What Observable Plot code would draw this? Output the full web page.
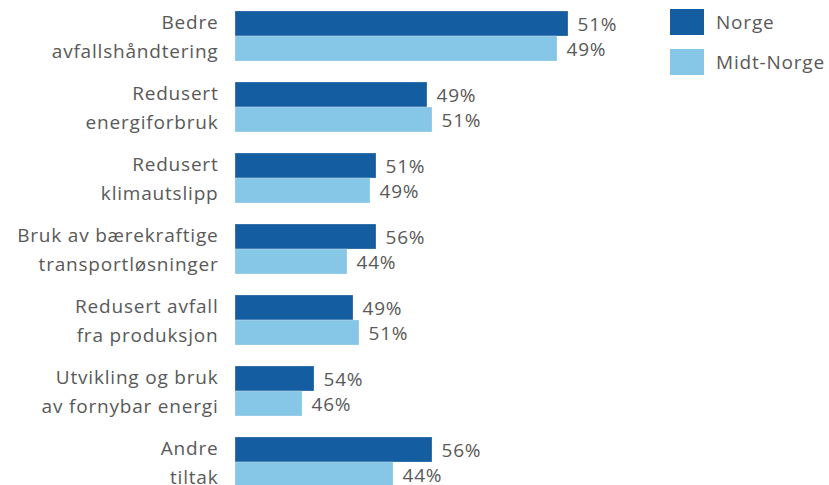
<!DOCTYPE html>
<html>
<head>
<meta charset="utf-8">
<script src="https://cdn.jsdelivr.net/npm/d3@7"></script>
<script src="https://cdn.jsdelivr.net/npm/@observablehq/plot@0.6"></script>
<style>
  html, body { margin: 0; padding: 0; overflow: hidden; background: #fff; }
  #wrap { position: relative; width: 829px; height: 485px; font-family: "Open Sans", sans-serif; }
  #legend { position: absolute; left: 670px; top: 9px; font-size: 19px; letter-spacing: 0.8px; color: #595959; }
  #legend .item { display: flex; align-items: center; height: 26px; margin-bottom: 14px; }
  #legend .sw { width: 34px; height: 26px; margin-right: 12px; }
</style>
</head>
<body>
<div id="wrap"><div id="chart"></div><div id="legend"></div></div>
<script>
const categories = [
  "Bedre\navfallshåndtering",
  "Redusert\nenergiforbruk",
  "Redusert\nklimautslipp",
  "Bruk av bærekraftige\ntransportløsninger",
  "Redusert avfall\nfra produksjon",
  "Utvikling og bruk\nav fornybar energi",
  "Andre\ntiltak"
];
const seriesNames = ["Norge", "Midt-Norge"];
const colors = ["#145da0", "#86c6e6"];
// bar lengths (as drawn)
const norgeValues = [33.3, 19.2, 14.1, 14.1, 11.8, 7.9, 19.7];
const midtValues  = [32.2, 19.7, 13.5, 11.2, 12.4, 6.7, 15.8];
// value labels (share within each pair)
const norgeLabels = [51, 49, 51, 56, 49, 54, 56];
const midtLabels  = [49, 51, 49, 44, 51, 46, 44];

const data = [];
categories.forEach((c, i) => {
  data.push({category: c, series: seriesNames[0], value: norgeValues[i], label: norgeLabels[i]});
  data.push({category: c, series: seriesNames[1], value: midtValues[i], label: midtLabels[i]});
});

const chart = Plot.plot({
  width: 829,
  height: 485,
  marginLeft: 235,
  marginRight: 0,
  marginTop: 0,
  marginBottom: 0,
  style: {fontFamily: "'Open Sans', sans-serif", fontSize: "19px", letterSpacing: "0.8px", color: "#595959", background: "white"},
  x: {domain: [0, 59.4], axis: null},
  y: {domain: seriesNames, axis: null, padding: 0},
  fy: {domain: categories, axis: null, range: [9.3, 488], paddingInner: 0.285, paddingOuter: 0},
  color: {domain: seriesNames, range: colors},
  marks: [
    Plot.barX(data, {fy: "category", y: "series", x: "value", fill: "series", stroke: "white", strokeOpacity: 0.5, strokeWidth: 0.5}),
    Plot.text(data, {fy: "category", y: "series", x: "value", text: d => d.label + "%", textAnchor: "start", dx: 9, dy: 1, fill: "#595959", fontSize: 19}),
    Plot.text(categories, {fy: d => d, text: d => d, x: 0, textAnchor: "end", dx: -17, dy: -1.5, lineHeight: 1.53, fill: "#595959", fontSize: 19})
  ]
});
document.getElementById("chart").appendChild(chart);

const legend = document.getElementById("legend");
seriesNames.forEach((s, i) => {
  const item = document.createElement("div");
  item.className = "item";
  const sw = document.createElement("div");
  sw.className = "sw";
  sw.style.background = colors[i];
  const t = document.createElement("span");
  t.textContent = s;
  item.appendChild(sw);
  item.appendChild(t);
  legend.appendChild(item);
});
</script>
</body>
</html>
